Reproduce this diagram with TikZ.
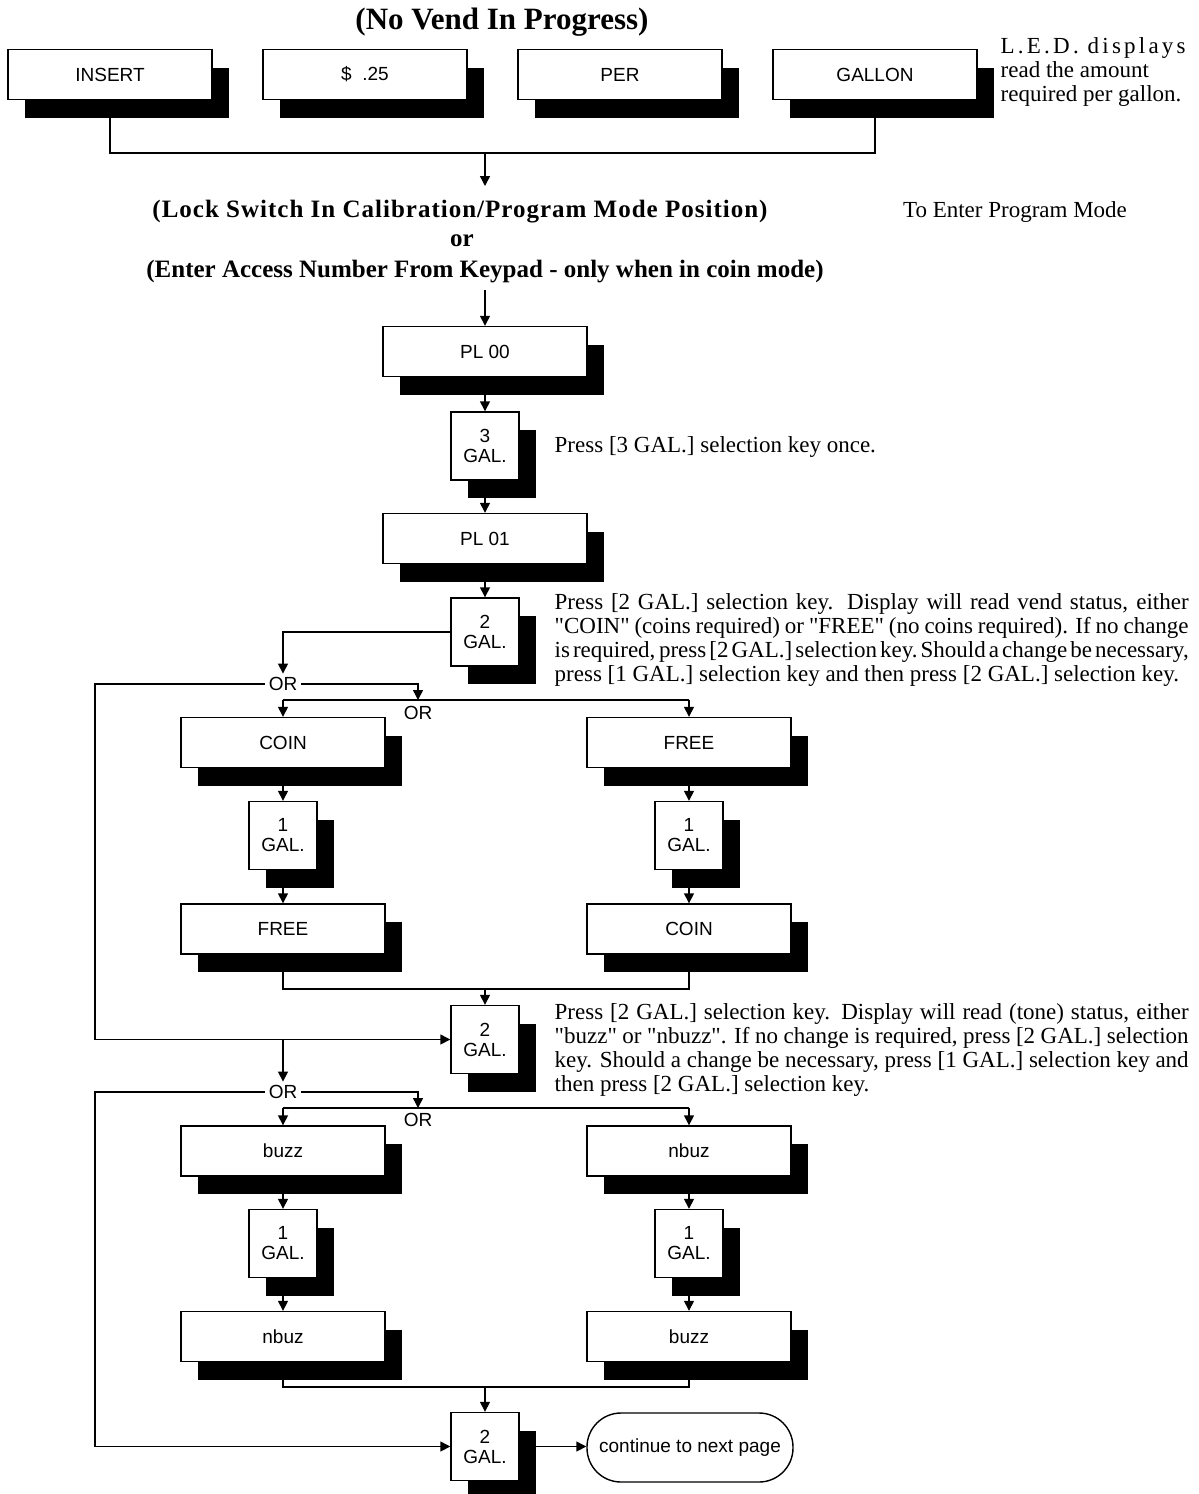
\documentclass[tikz,border=0pt]{standalone}
\usepackage{fontspec}
\setmainfont{Liberation Serif}
\setsansfont{Liberation Sans}
\usetikzlibrary{arrows.meta,shadows}

\newcommand\dq{\textquotedbl}

\tikzset{
  lbl/.style={font=\sffamily\fontsize{9.5}{10}\selectfont},
  shadowed/.style={drop shadow={shadow xshift=8.5pt,shadow yshift=-9pt,fill=black,opacity=1}},
  disp/.style={draw,fill=white,shadowed,minimum width=102pt,minimum height=25pt,inner sep=0pt,lbl},
  gkey/.style={draw,fill=white,shadowed,minimum width=34pt,minimum height=34pt,inner sep=0pt,lbl,align=center},
  orlbl/.style={lbl,inner sep=1.5pt},
  arr/.style={-{Triangle[length=5pt,width=5pt]}},
  note/.style={font=\fontsize{11.5}{12}\selectfont},
  head/.style={font=\bfseries\fontsize{12.5}{13}\selectfont},
  para/.style={note,anchor=north west,text width=317pt,align=justify,inner sep=0pt},
}

\begin{document}
\begin{tikzpicture}[x=0.5pt,y=-0.5pt,line width=0.7pt]
\useasboundingbox (0,0) rectangle (1199,1494);

% heading and the idle display
\node[font=\bfseries\fontsize{15.5}{16}\selectfont] (title) at (502,22) {(No Vend In Progress)};
\node[disp] (ins) at (110,74.5) {INSERT};
\node[disp] (amt) at (365,74.5) {\$\ \ .25};
\node[disp] (per) at (620,74.5) {PER};
\node[disp] (gal) at (875,74.5) {GALLON};
\node[note,anchor=north west,align=left,inner sep=0pt] (led) at (1000,37)
  {{\addfontfeatures{LetterSpace=14}L.E.D. displays}\\read the amount\\required per gallon.};

\coordinate (j0) at (485,153);
\coordinate (a0) at (485,186);
\draw (ins.south) |- (j0) -| (gal.south);
\draw[arr] (j0) -- (a0);

% entering program mode
\node[head] (lock) at (460,212) {\addfontfeatures{LetterSpace=4}(Lock Switch In Calibration/Program Mode Position)};
\node[head] (or0) at (462,241) {or};
\node[head] (acc) at (485,272) {(Enter Access Number From Keypad - only when in coin mode)};
\node[note] (tep) at (1015,212) {To Enter Program Mode};
\coordinate (c0) at (485,290);

\node[disp] (pl0) at (485,351.5) {PL 00};
\node[gkey] (k3) at (485,446) {3\\GAL.};
\node[note,anchor=west,inner sep=0pt] (n3) at (554,447) {Press [3 GAL.] selection key once.};
\node[disp] (pl1) at (485,538.5) {PL 01};
\node[gkey] (k2a) at (485,632) {2\\GAL.};
\node[para] (n2a) at (554,593) {\spaceskip=.25em plus .3em minus .15em
Press [2 GAL.] selection key.  Display will read vend status, either\linebreak
\dq COIN\dq{} (coins required) or \dq FREE\dq{} (no coins required).  If no change\linebreak
is required, press [2 GAL.] selection key.\ Should a change be necessary,\linebreak
press [1 GAL.] selection key and then press [2 GAL.] selection key.};

% vend status branch
\coordinate (lx) at (95,0);
\node[orlbl] (or1) at (283,684) {OR};
\coordinate (j1) at (418,700);
\coordinate (j1l) at (283,700);
\coordinate (j1r) at (689,700);
\node[orlbl] (or2) at (418,713) {OR};
\node[disp] (coinA) at (283,742.5) {COIN};
\node[disp] (freeA) at (689,742.5) {FREE};
\node[gkey] (k1a) at (283,835.5) {1\\GAL.};
\node[gkey] (k1b) at (689,835.5) {1\\GAL.};
\node[disp] (freeC) at (283,929) {FREE};
\node[disp] (coinC) at (689,929) {COIN};
\coordinate (m1) at (485,989);
\node[gkey] (k2b) at (485,1039.5) {2\\GAL.};
\node[para] (n2b) at (554,1003) {Press [2 GAL.] selection key.  Display will read (tone) status, either\linebreak
\dq buzz\dq{} or \dq nbuzz\dq.  If no change is required, press [2 GAL.] selection\linebreak
key.  Should a change be necessary, press [1 GAL.] selection key and\linebreak
then press [2 GAL.] selection key.\par};

% tone status branch
\coordinate (s2) at (283,1039.5);
\node[orlbl] (or3) at (283,1092) {OR};
\coordinate (j2) at (418,1108);
\coordinate (j2l) at (283,1108);
\coordinate (j2r) at (689,1108);
\node[orlbl] (or4) at (418,1120) {OR};
\node[disp] (buzzA) at (283,1151) {buzz};
\node[disp] (nbuzA) at (689,1151) {nbuz};
\node[gkey] (k1c) at (283,1243.5) {1\\GAL.};
\node[gkey] (k1d) at (689,1243.5) {1\\GAL.};
\node[disp] (nbuzC) at (283,1336.5) {nbuz};
\node[disp] (buzzC) at (689,1336.5) {buzz};
\coordinate (m2) at (485,1387);
\node[gkey] (k2c) at (485,1446.5) {2\\GAL.};
\node[draw,fill=white,rounded corners=17pt,minimum width=103pt,minimum height=34.5pt,lbl] (term) at (690,1447.5) {continue to next page};

% connectors
\draw[arr] (c0) -- (pl0.north);
\draw[arr] (pl0.south) -- (k3.north);
\draw[arr] (k3.south) -- (pl1.north);
\draw[arr] (pl1.south) -- (k2a.north);

\draw[arr] (k2a.west) -| (or1.north);
\draw[arr] (or1.east) -| (j1);
\draw (j1l) -- (j1r);
\draw[arr] (j1l) -- (coinA.north);
\draw[arr] (j1r) -- (freeA.north);
\draw[arr] (coinA.south) -- (k1a.north);
\draw[arr] (k1a.south) -- (freeC.north);
\draw[arr] (freeA.south) -- (k1b.north);
\draw[arr] (k1b.south) -- (coinC.north);
\draw (freeC.south) |- (m1) -| (coinC.south);
\draw[arr] (m1) -- (k2b.north);
\draw[arr] (or1.west) -- (or1.west -| lx) |- (k2b.west);

\draw[arr] (s2) -- (or3.north);
\draw[arr] (or3.east) -| (j2);
\draw (j2l) -- (j2r);
\draw[arr] (j2l) -- (buzzA.north);
\draw[arr] (j2r) -- (nbuzA.north);
\draw[arr] (buzzA.south) -- (k1c.north);
\draw[arr] (k1c.south) -- (nbuzC.north);
\draw[arr] (nbuzA.south) -- (k1d.north);
\draw[arr] (k1d.south) -- (buzzC.north);
\draw (nbuzC.south) |- (m2) -| (buzzC.south);
\draw[arr] (m2) -- (k2c.north);
\draw[arr] (or3.west) -- (or3.west -| lx) |- (k2c.west);
\draw[arr] (k2c.east) -- (k2c.east -| term.west);
\end{tikzpicture}
\end{document}
